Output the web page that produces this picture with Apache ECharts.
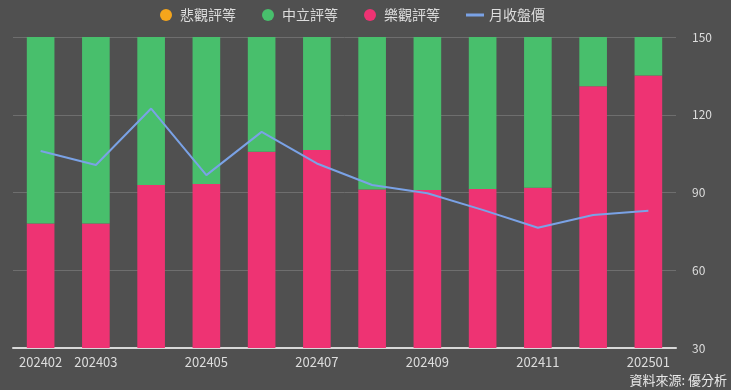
<!DOCTYPE html>
<html><head><meta charset="utf-8">
<script src="https://cdn.jsdelivr.net/npm/echarts@6/dist/echarts.min.js"></script>
<style>html,body{margin:0;padding:0;background:#505050;}#c{width:731px;height:390px;}</style>
</head><body><div id="c"></div>
<script>
var months = ['202402','202403','202404','202405','202406','202407','202408','202409','202410','202411','202412','202501'];
var optimistic = [40, 40, 52.4, 52.7, 63.1, 63.7, 51, 50.8, 51.1, 51.5, 84.2, 87.6];
var neutral = [60, 60, 47.6, 47.3, 36.9, 36.3, 49, 49.2, 48.9, 48.5, 15.8, 12.4];
var pessimistic = [0, 0, 0, 0, 0, 0, 0, 0, 0, 0, 0, 0];
var closePrice = [106.0, 100.6, 122.4, 96.7, 113.4, 101.2, 92.9, 89.7, 83.3, 76.4, 81.3, 83.0];
var priceTicks = {min: 30, max: 150, interval: 30};

var font = '"Noto Sans CJK TC", "Noto Sans", sans-serif';
var chart = echarts.init(document.getElementById('c'));
chart.setOption({
  backgroundColor: '#505050',
  animation: false,
  textStyle: {fontFamily: font},
  legend: {
    left: 155, top: 3, itemGap: 26, itemWidth: 18, itemHeight: 12,
    textStyle: {color: '#dddddd', fontSize: 14, fontFamily: font},
    data: [
      {name: '悲觀評等', icon: 'circle'},
      {name: '中立評等', icon: 'circle'},
      {name: '樂觀評等', icon: 'circle'},
      {name: '月收盤價', icon: 'path://M0 0 H18 V3 H0 Z', itemStyle: {color: '#7aa2e6'}}
    ]
  },
  grid: {left: 13, right: 55, top: 37, bottom: 42},
  xAxis: {
    type: 'category', data: months,
    axisLine: {lineStyle: {color: '#d8d8d8', width: 2}},
    axisTick: {show: false},
    axisLabel: {color: '#dddddd', fontSize: 13, margin: 8, fontFamily: font,
      interval: function (i) { return i === 0 || i % 2 === 1; }}
  },
  yAxis: [
    {type: 'value', position: 'right', min: priceTicks.min, max: priceTicks.max, interval: priceTicks.interval,
     axisLine: {show: false}, axisTick: {show: false},
     splitLine: {lineStyle: {color: '#6e6e6e', width: 1}},
     axisLabel: {color: '#dddddd', fontSize: 12, margin: 16, fontFamily: font}},
    {type: 'value', position: 'right', min: 0, max: 100, show: false, splitLine: {show: false}}
  ],
  series: [
    {name: '樂觀評等', type: 'bar', stack: 'r', yAxisIndex: 1, barWidth: '50%', data: optimistic, itemStyle: {color: '#ee3373'}},
    {name: '中立評等', type: 'bar', stack: 'r', yAxisIndex: 1, barWidth: '50%', data: neutral, itemStyle: {color: '#48bf6c'}},
    {name: '悲觀評等', type: 'bar', stack: 'r', yAxisIndex: 1, barWidth: '50%', data: pessimistic, itemStyle: {color: '#f5a51c'}},
    {name: '月收盤價', type: 'line', yAxisIndex: 0, data: closePrice, showSymbol: false, symbol: 'none',
     lineStyle: {color: '#7aa2e6', width: 2}, itemStyle: {color: '#7aa2e6'}, z: 5}
  ],
  graphic: [{type: 'text', right: 4, top: 374,
    style: {text: '資料來源: 優分析', fill: '#e8e8e8', fontSize: 13, fontFamily: font}}]
});
</script></body></html>
